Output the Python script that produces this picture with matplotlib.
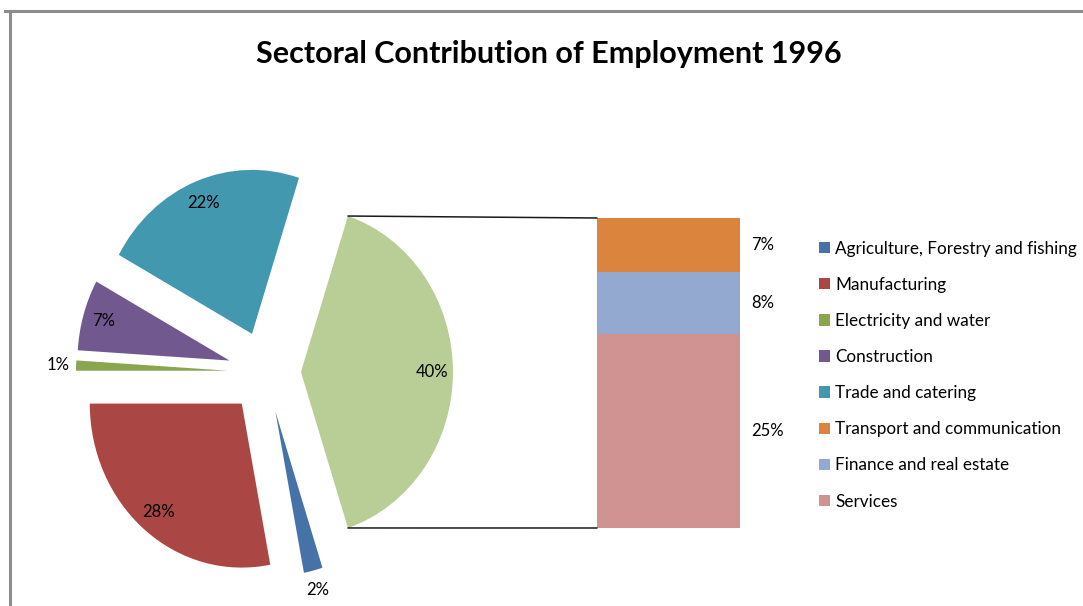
import matplotlib
matplotlib.use("Agg")
import matplotlib.pyplot as plt
from matplotlib.patches import ConnectionPatch
from matplotlib.lines import Line2D
import numpy as np

W, H = 1083, 606

title = "Sectoral Contribution of Employment 1996"

# Sectors shown as individual slices of the pie (clockwise order)
pie_sectors = ["Agriculture, Forestry and fishing", "Manufacturing",
               "Electricity and water", "Construction", "Trade and catering"]
pie_values = [2, 28, 1, 7, 22]
pie_colors = ["#4572A7", "#AA4744", "#89A54E", "#71588F", "#4198AF"]

# Sectors grouped into the "other" slice and broken out in the stacked bar (top to bottom)
bar_sectors = ["Transport and communication", "Finance and real estate", "Services"]
bar_values = [7, 8, 25]
bar_colors = ["#DB843D", "#93A9CF", "#D19392"]

other_color = "#B9CD96"

plt.rcParams['font.family'] = ['Lato', 'DejaVu Sans']

fig = plt.figure(figsize=(W / 100, H / 100), dpi=100)


def px_box(left, top, right, bottom):
    return [left / W, 1 - bottom / H, (right - left) / W, (bottom - top) / H]


# ---- pie of the main sectors plus the aggregated slice ----
cx, cy, rx, ry = 266, 372, 152, 164
ax_pie = fig.add_axes([0, 0, 1, 1])
other_value = sum(bar_values)
values = pie_values + [other_value]
total = sum(values)
colors = pie_colors + [other_color]
explode = [0.25] * len(pie_values) + [0.23]
wedges, _ = ax_pie.pie(values, colors=colors, explode=explode,
                       startangle=-180 * other_value / total,
                       counterclock=False, radius=1,
                       wedgeprops=dict(linewidth=0))
ax_pie.set_aspect('auto')
ax_pie.set_xlim(-cx / rx, (W - cx) / rx)
ax_pie.set_ylim((cy - H) / ry, cy / ry)
ax_pie.axis('off')

for w, v in zip(wedges, values):
    mid = np.deg2rad((w.theta1 + w.theta2) / 2)
    dist = 0.86 if v / total >= 0.05 else 1.12
    x = w.center[0] + dist * np.cos(mid)
    y = w.center[1] + dist * np.sin(mid)
    ax_pie.text(x, y, f"{v / total * 100:.0f}%", ha='center', va='center',
                fontsize=12, color='black')

# ---- stacked bar breaking down the aggregated slice ----
ax_bar = fig.add_axes(px_box(597, 218, 740, 528))
bottom = 0
bar_handles = {}
for v, c, n in zip(bar_values[::-1], bar_colors[::-1], bar_sectors[::-1]):
    b = ax_bar.bar(0, v, bottom=bottom, width=1, color=c, linewidth=0)
    ax_bar.annotate(f"{v / total * 100:.0f}%", xy=(0.5, bottom + v / 2),
                    xytext=(11, 0), textcoords='offset pixels',
                    ha='left', va='center', fontsize=12, color='black')
    bar_handles[n] = b.patches[0]
    bottom += v
ax_bar.set_xlim(-0.5, 0.5)
ax_bar.set_ylim(0, other_value)
ax_bar.axis('off')

# connector lines from the aggregated slice to the bar
ow = wedges[-1]
for ang, yb in ((ow.theta2, other_value), (ow.theta1, 0)):
    a = np.deg2rad(ang)
    con = ConnectionPatch(xyA=(ow.center[0] + np.cos(a), ow.center[1] + np.sin(a)),
                          coordsA=ax_pie.transData,
                          xyB=(-0.5, yb), coordsB=ax_bar.transData,
                          color='#1a1a1a', lw=1.1)
    fig.add_artist(con)

# ---- legend ----
handles = list(wedges[:len(pie_sectors)]) + [bar_handles[n] for n in bar_sectors]
labels = pie_sectors + bar_sectors
fig.legend(handles, labels, loc='upper left',
           bbox_to_anchor=(819 / W, 1 - 240.5 / H), bbox_transform=fig.transFigure,
           frameon=False, fontsize=12.3, handlelength=0.65, handleheight=0.65,
           handletextpad=0.3, labelspacing=1.18, borderpad=0, borderaxespad=0)

# ---- title ----
fig.text(549 / W, 1 - 62.5 / H, title, ha='center', va='baseline',
         fontsize=22, fontweight='bold', color='black')

# ---- chart area border ----
fig.add_artist(Line2D([5 / W, 1], [1 - 11 / H] * 2, transform=fig.transFigure,
                      color='#8c8c8c', lw=2.2))
fig.add_artist(Line2D([10 / W] * 2, [1 - 11 / H, 0], transform=fig.transFigure,
                      color='#8c8c8c', lw=2.2))

fig.savefig("out.png", dpi=100, facecolor='white')
